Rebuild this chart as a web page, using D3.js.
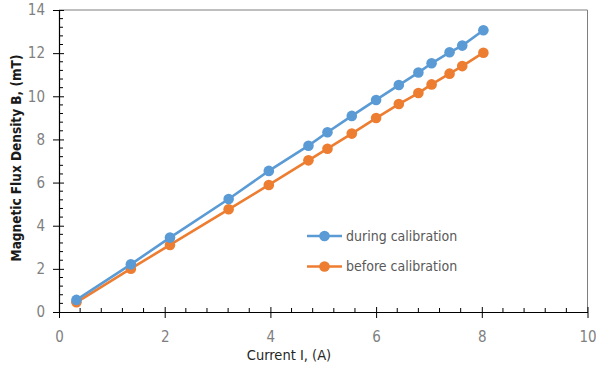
<!DOCTYPE html>
<html>
<head>
<meta charset="utf-8">
<script src="https://cdn.jsdelivr.net/npm/d3@7"></script>
<style>
  html, body { margin: 0; padding: 0; background: #fff; }
  svg { display: block; font-family: "DejaVu Sans Condensed", "Liberation Sans Narrow", "Open Sans", sans-serif; }
</style>
</head>
<body>
<svg id="chart" width="596" height="373"></svg>
<script>
// Coil current (A) and measured flux density (mT)
const currentDuring = [0.33, 1.36, 2.10, 3.21, 3.97, 4.72, 5.08, 5.54, 6.00, 6.43, 6.80, 7.05, 7.39, 7.63, 8.03];
const fluxDuring    = [0.56, 2.21, 3.45, 5.24, 6.54, 7.71, 8.33, 9.09, 9.83, 10.52, 11.10, 11.53, 12.04, 12.35, 13.06];
const currentBefore = [0.33, 1.36, 2.10, 3.21, 3.97, 4.72, 5.08, 5.54, 6.00, 6.43, 6.80, 7.05, 7.39, 7.63, 8.03];
const fluxBefore    = [0.45, 2.01, 3.11, 4.76, 5.89, 7.03, 7.57, 8.27, 8.99, 9.64, 10.15, 10.55, 11.05, 11.40, 12.02];
const seriesNames = ["during calibration", "before calibration"];
const xTicks = [0, 2, 4, 6, 8, 10];
const yTicks = [0, 2, 4, 6, 8, 10, 12, 14];

const svg = d3.select("#chart");
const plotL = 59, plotR = 587.5, plotT = 10, plotB = 312;

const x = d3.scaleLinear().domain([0, 10]).range([plotL, plotR]);
const y = d3.scaleLinear().domain([0, 14]).range([plotB, plotT]);

// plot frame (top and right)
svg.append("path")
  .attr("d", `M${plotL},${plotT}H${plotR}V${plotB}`)
  .attr("fill", "none").attr("stroke", "#7f7f7f").attr("stroke-width", 1);

// minor ticks every 0.4
const xMinor = d3.range(0, 10.001, 0.4).filter(v => Math.abs(v / 2 - Math.round(v / 2)) > 1e-6);
const yMinor = d3.range(0, 14.001, 0.4).filter(v => Math.abs(v / 2 - Math.round(v / 2)) > 1e-6);

svg.append("g").selectAll("line").data(xMinor).join("line")
  .attr("x1", d => x(d)).attr("x2", d => x(d))
  .attr("y1", plotB - 4).attr("y2", plotB)
  .attr("stroke", "#000").attr("stroke-width", 1);
svg.append("g").selectAll("line").data(yMinor).join("line")
  .attr("y1", d => y(d)).attr("y2", d => y(d))
  .attr("x1", plotL).attr("x2", plotL + 4)
  .attr("stroke", "#000").attr("stroke-width", 1);

// x axis
const xAxis = svg.append("g").attr("transform", `translate(0,${plotB})`)
  .call(d3.axisBottom(x).tickValues(xTicks).tickSize(6).tickSizeOuter(0).tickPadding(13));
xAxis.select(".domain").attr("stroke", "#000").attr("stroke-width", 1.2);
xAxis.selectAll(".tick line").attr("y1", -5).attr("y2", 6).attr("stroke", "#000");
xAxis.selectAll(".tick text").attr("fill", "#7f7f7f").attr("font-size", 15)
  .attr("font-family", "DejaVu Sans Condensed, sans-serif");

// y axis
const yAxis = svg.append("g").attr("transform", `translate(${plotL},0)`)
  .call(d3.axisLeft(y).tickValues(yTicks).tickSize(6).tickSizeOuter(0).tickPadding(8));
yAxis.select(".domain").attr("stroke", "#000").attr("stroke-width", 1.2);
yAxis.selectAll(".tick line").attr("x1", -6).attr("x2", 5).attr("stroke", "#000");
yAxis.selectAll(".tick text").attr("fill", "#7f7f7f").attr("font-size", 15)
  .attr("font-family", "DejaVu Sans Condensed, sans-serif");

// axis titles
svg.append("text").attr("x", 289).attr("y", 360)
  .attr("text-anchor", "middle").attr("font-size", 14.5).attr("fill", "#262626")
  .text("Current I, (A)");
svg.append("text").attr("transform", "translate(21,158) rotate(-90)")
  .attr("text-anchor", "middle").attr("font-size", 13.5).attr("font-weight", "bold").attr("fill", "#1a1a1a")
  .text("Magnetic Flux Density B, (mT)");

// series
const series = [
  { name: seriesNames[0], xs: currentDuring, ys: fluxDuring, color: "#5b9bd5" },
  { name: seriesNames[1], xs: currentBefore, ys: fluxBefore, color: "#ed7d31" }
];
const line = d3.line().x(d => x(d[0])).y(d => y(d[1]));

// draw "before" first so "during" sits on top
[...series].reverse().forEach(s => {
  const pts = s.xs.map((v, i) => [v, s.ys[i]]);
  const g = svg.append("g");
  g.append("path").datum(pts).attr("d", line)
    .attr("fill", "none").attr("stroke", s.color).attr("stroke-width", 2.6);
  g.selectAll("circle").data(pts).join("circle")
    .attr("cx", d => x(d[0])).attr("cy", d => y(d[1])).attr("r", 5.3)
    .attr("fill", s.color);
});

// legend
series.forEach((s, i) => {
  const ly = 236 + i * 30.5;
  svg.append("line").attr("x1", 307).attr("x2", 342).attr("y1", ly).attr("y2", ly)
    .attr("stroke", s.color).attr("stroke-width", 2.6);
  svg.append("circle").attr("cx", 324.5).attr("cy", ly).attr("r", 5.3).attr("fill", s.color);
  svg.append("text").attr("x", 346).attr("y", ly).attr("dy", "0.35em")
    .attr("font-size", 14).attr("fill", "#595959").text(s.name);
});
</script>
</body>
</html>
